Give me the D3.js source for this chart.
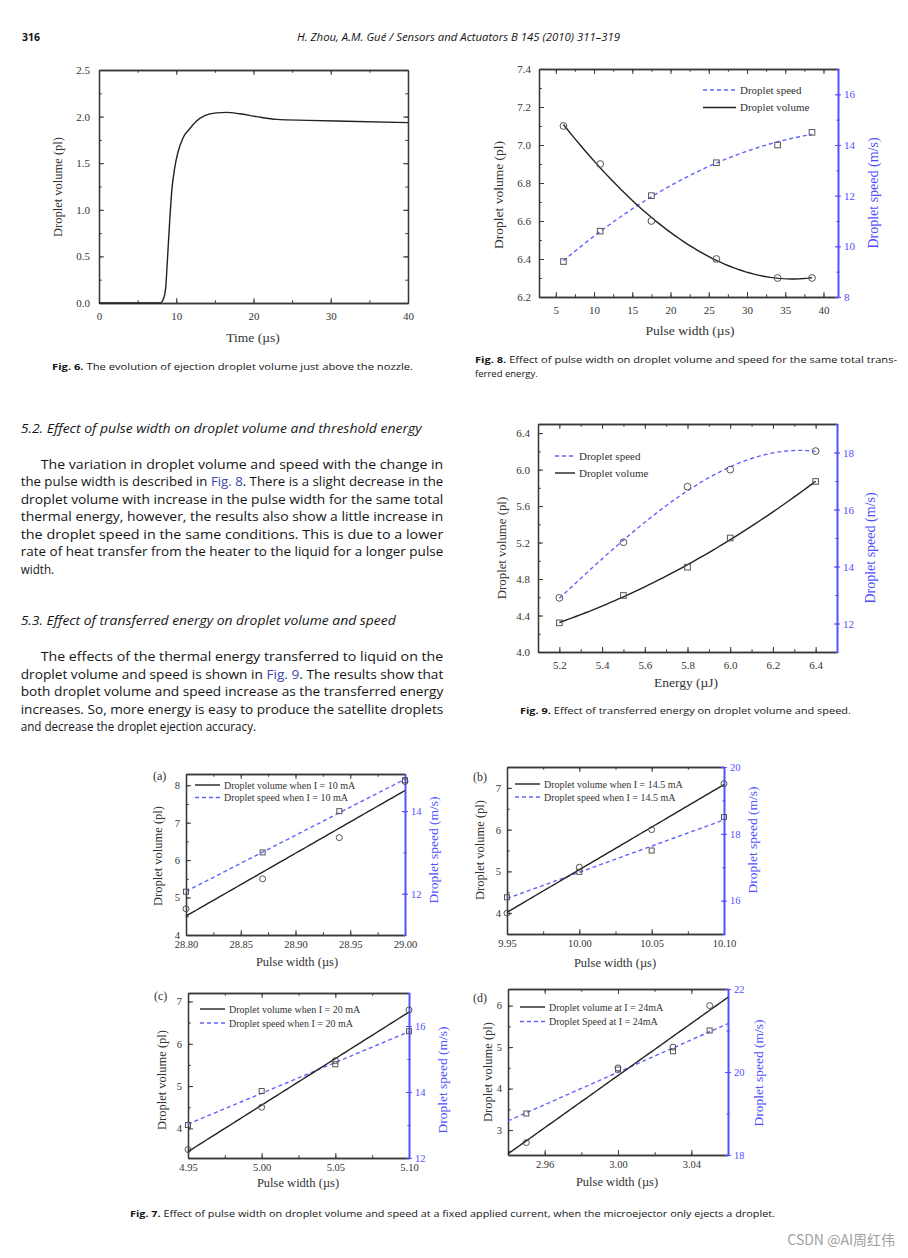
<!DOCTYPE html>
<html>
<head>
<meta charset="utf-8">
<script src="https://cdn.jsdelivr.net/npm/d3@7"></script>
<style>
  body { margin: 0; background: #fff; }
</style>
</head>
<body>
<svg id="page" width="908" height="1258"></svg>
<script>
// ---- data ----
// Fig. 6: droplet volume vs time
var fig6Time   = [0, 7.94, 8.37, 8.63, 8.85, 9.15, 9.45, 9.8, 10.23, 10.87, 11.74, 12.6, 13.68, 15.2, 16.5, 18.2, 20.4, 23, 27, 32, 40];
var fig6Volume = [0, 0, 0.05, 0.16, 0.45, 0.88, 1.23, 1.45, 1.62, 1.77, 1.87, 1.95, 2.01, 2.04, 2.045, 2.03, 2.0, 1.97, 1.96, 1.95, 1.935];

// Fig. 8: pulse width vs volume / speed
var fig8Pulse  = [6, 10.8, 17.5, 26, 34, 38.5];
var fig8Volume = [7.1, 6.9, 6.6, 6.4, 6.3, 6.3];
var fig8Speed  = [9.4, 10.6, 12.0, 13.3, 14.0, 14.5];

// Fig. 9: energy vs volume / speed
var fig9Energy = [5.2, 5.5, 5.8, 6.0, 6.4];
var fig9Volume = [4.32, 4.62, 4.93, 5.25, 5.87];
var fig9Speed  = [12.9, 14.85, 16.8, 17.4, 18.05];

// Fig. 7 (a)-(d): pulse width at fixed current
var fig7aPulse = [28.80, 28.87, 28.94, 29.00];
var fig7aVolume = [4.7, 5.5, 6.6, 8.1];
var fig7aSpeed = [12.05, 13.0, 14.0, 14.75];
var fig7bPulse = [9.95, 10.00, 10.05, 10.10];
var fig7bVolume = [4.0, 5.1, 6.0, 7.1];
var fig7bSpeed = [16.1, 16.86, 17.5, 18.5];
var fig7cPulse = [4.95, 5.00, 5.05, 5.10];
var fig7cVolume = [3.5, 4.5, 5.6, 6.8];
var fig7cSpeed = [13.0, 14.03, 14.84, 15.84];
var fig7dPulse = [2.95, 3.00, 3.03, 3.05];
var fig7dVolume = [2.7, 4.5, 5.0, 6.0];
var fig7dSpeed = [19.0, 20.06, 20.5, 21.0];

var fig7Legends = [
  ["Droplet volume when I = 10 mA", "Droplet speed when I = 10 mA"],
  ["Droplet volume when I = 14.5 mA", "Droplet speed when I = 14.5 mA"],
  ["Droplet volume when I = 20 mA", "Droplet speed when I = 20 mA"],
  ["Droplet volume at I = 24mA", "Droplet Speed at I = 24mA"]
];

// ---- styles ----
var svg = d3.select("#page");
var axisInk = "#3a3a3a", labelInk = "#333", blue = "#4f4fff", dashBlue = "#6363ff", markInk = "#555";
var serif = '"Liberation Serif","DejaVu Serif",serif';
var sans = '"Open Sans","Noto Sans",sans-serif';

function steps(a, b, s) {
  var n = Math.round((b - a) / s);
  return d3.range(n + 1).map(function(i) { return +(a + i * s).toFixed(6); });
}

function styleAxis(sel, color, fs) {
  sel.attr("font-family", null).attr("font-size", null);
  sel.select(".domain").attr("stroke", color).attr("stroke-width", 1.3);
  sel.selectAll(".tick line").attr("stroke", color).attr("stroke-width", 1);
  sel.selectAll("text").attr("fill", color === blue ? blue : labelInk)
    .attr("font-family", serif).attr("font-size", fs);
}

function addAxis(g, axis, pos, major, minor, fmt, size, pad, color, fs) {
  var m = g.append("g").attr("transform", pos)
    .call(axis.tickValues(minor).tickSize(size * 0.55).tickSizeOuter(0).tickFormat(""));
  styleAxis(m, color, fs);
  var a = g.append("g").attr("transform", pos)
    .call(axis.tickValues(major).tickSize(size).tickSizeOuter(0).tickPadding(pad).tickFormat(fmt));
  styleAxis(a, color, fs);
}

function title(g, txt, x, y, rot, fs, color) {
  g.append("text")
    .attr("transform", "translate(" + x + "," + y + ")" + (rot ? " rotate(-90)" : ""))
    .attr("text-anchor", "middle").attr("dy", "0.35em")
    .attr("font-family", serif).attr("font-size", fs)
    .attr("fill", color || labelInk)
    .text(txt);
}

function drawPanel(p) {
  var g = svg.append("g");
  var x = d3.scaleLinear().domain(p.xDomain).range([p.left, p.right]);
  var y = d3.scaleLinear().domain(p.yDomain).range([p.bottom, p.top]);
  var fs = p.tickFont;
  addAxis(g, d3.axisTop(x), "translate(0," + p.top + ")", p.xTicks, p.xMinor, "", -5, 0, axisInk, fs);
  addAxis(g, d3.axisBottom(x), "translate(0," + p.bottom + ")", p.xTicks, p.xMinor, d3.format(p.xFmt), -5, p.xPad, axisInk, fs);
  addAxis(g, d3.axisLeft(y), "translate(" + p.left + ",0)", p.yTicks, p.yMinor, d3.format(p.yFmt), -5, p.yPad, axisInk, fs);
  var y2 = null;
  if (p.y2Domain) {
    y2 = d3.scaleLinear().domain(p.y2Domain).range([p.bottom, p.top]);
    addAxis(g, d3.axisRight(y2), "translate(" + p.right + ",0)", p.y2Ticks, p.y2Minor, "", -3, 0, blue, fs);
    addAxis(g, d3.axisRight(y2), "translate(" + p.right + ",0)", p.y2Ticks, p.y2Minor, d3.format("d"), 3, 3, blue, fs);
    title(g, "Droplet speed (m/s)", p.y2Title[0], p.y2Title[1], true, p.y2TitleFont, blue);
  } else {
    addAxis(g, d3.axisRight(y), "translate(" + p.right + ",0)", p.yTicks, p.yMinor, "", -5, 0, axisInk, fs);
  }
  title(g, p.xLabel, p.xTitle[0], p.xTitle[1], false, p.xTitleFont);
  title(g, "Droplet volume (pl)", p.yTitle[0], p.yTitle[1], true, p.yTitleFont);
  if (p.tag) {
    g.append("text").attr("x", p.tag[0]).attr("y", p.tag[1]).attr("dy", "0.35em")
      .attr("font-family", serif).attr("font-size", 12).attr("fill", labelInk).text(p.tagText);
  }
  return {g: g, x: x, y: y, y2: y2};
}

function strokePath(pp, pts, sy, color, dash, kind) {
  var line = d3.line().x(function(d) { return pp.x(d[0]); }).y(function(d) { return sy(d[1]); });
  if (kind) line.curve(kind);
  pp.g.append("path").datum(pts).attr("d", line)
    .attr("fill", "none").attr("stroke", color).attr("stroke-width", 1.4)
    .attr("stroke-dasharray", dash || null);
}

// least-squares polynomial through the measured points (the smooth fit curve drawn in the paper)
function polyFit(xs, ys, deg) {
  var mx = d3.mean(xs), n = deg + 1;
  var A = d3.range(n).map(function(r) {
    return d3.range(n + 1).map(function(c) {
      if (c === n) return d3.sum(xs, function(v, i) { return ys[i] * Math.pow(v - mx, r); });
      return d3.sum(xs, function(v) { return Math.pow(v - mx, r + c); });
    });
  });
  for (var i = 0; i < n; i++) {
    for (var j = i + 1; j < n; j++) {
      var f = A[j][i] / A[i][i];
      for (var k = i; k <= n; k++) A[j][k] -= f * A[i][k];
    }
  }
  var coef = new Array(n);
  for (var i2 = n - 1; i2 >= 0; i2--) {
    var s = A[i2][n];
    for (var k2 = i2 + 1; k2 < n; k2++) s -= A[i2][k2] * coef[k2];
    coef[i2] = s / A[i2][i2];
  }
  return function(v) { return d3.sum(coef, function(c, p) { return c * Math.pow(v - mx, p); }); };
}

function fitCurve(pp, xs, ys, sy, deg, color, dash, range) {
  var f = polyFit(xs, ys, deg);
  var span = range || d3.extent(xs);
  var pts = d3.range(61).map(function(i) {
    var v = span[0] + (span[1] - span[0]) * i / 60;
    return [v, f(v)];
  });
  strokePath(pp, pts, sy, color, dash, null);
}

function markers(pp, xs, ys, sy, shape, r) {
  var pts = d3.zip(xs, ys);
  if (shape === "circle") {
    pp.g.selectAll(null).data(pts).join("circle")
      .attr("cx", function(d) { return pp.x(d[0]); }).attr("cy", function(d) { return sy(d[1]); })
      .attr("r", r).attr("fill", "none").attr("stroke", markInk).attr("stroke-width", 1);
  } else {
    pp.g.selectAll(null).data(pts).join("rect")
      .attr("x", function(d) { return pp.x(d[0]) - r; }).attr("y", function(d) { return sy(d[1]) - r; })
      .attr("width", 2 * r).attr("height", 2 * r)
      .attr("fill", "none").attr("stroke", markInk).attr("stroke-width", 1);
  }
}

function legendRow(g, x0, x1, y, txt, color, dash, fs) {
  g.append("line").attr("x1", x0).attr("x2", x1).attr("y1", y).attr("y2", y)
    .attr("stroke", color).attr("stroke-width", 1.4).attr("stroke-dasharray", dash || null);
  g.append("text").attr("x", x1 + 4).attr("y", y).attr("dy", "0.35em")
    .attr("font-family", serif).attr("font-size", fs).attr("fill", labelInk).text(txt);
}

// ---- Fig. 6 ----
var p6 = drawPanel({
  left: 99, right: 408, top: 70, bottom: 303,
  xDomain: [0, 40], yDomain: [0, 2.5],
  xTicks: steps(0, 40, 10), xMinor: steps(0, 40, 5), xFmt: "d", xPad: 9,
  yTicks: steps(0, 2.5, 0.5), yMinor: steps(0, 2.5, 0.25), yFmt: ".1f", yPad: 9,
  tickFont: 11, xLabel: "Time (\u00b5s)", xTitle: [253, 337], xTitleFont: 13.5,
  yTitle: [58, 187], yTitleFont: 12.5
});
strokePath(p6, d3.zip(fig6Time, fig6Volume), p6.y, "#222", null, d3.curveMonotoneX);

// ---- Fig. 8 ----
var p8 = drawPanel({
  left: 539, right: 838, top: 69, bottom: 297,
  xDomain: [2.8, 41.9], yDomain: [6.2, 7.4], y2Domain: [8, 17],
  xTicks: steps(5, 40, 5), xMinor: steps(5, 40, 2.5), xFmt: "d", xPad: 9,
  yTicks: steps(6.2, 7.4, 0.2), yMinor: steps(6.2, 7.4, 0.1), yFmt: ".1f", yPad: 8,
  y2Ticks: steps(8, 16, 2), y2Minor: steps(8, 17, 1),
  tickFont: 11, xLabel: "Pulse width (\u00b5s)", xTitle: [690, 330], xTitleFont: 13.5,
  yTitle: [498, 195], yTitleFont: 13.5, y2Title: [873, 193], y2TitleFont: 14
});
fitCurve(p8, fig8Pulse, fig8Speed, p8.y2, 2, dashBlue, "4,3");
fitCurve(p8, fig8Pulse, fig8Volume, p8.y, 3, "#222");
markers(p8, fig8Pulse, fig8Volume, p8.y, "circle", 3.4);
markers(p8, fig8Pulse, fig8Speed, p8.y2, "square", 2.8);
legendRow(p8.g, 703, 736, 90, "Droplet speed", dashBlue, "4,3", 11);
legendRow(p8.g, 703, 736, 107.5, "Droplet volume", "#222", null, 11);

// ---- Fig. 9 ----
var p9 = drawPanel({
  left: 538, right: 837, top: 424, bottom: 652,
  xDomain: [5.1, 6.5], yDomain: [4.0, 6.5], y2Domain: [11, 19],
  xTicks: steps(5.2, 6.4, 0.2), xMinor: steps(5.2, 6.4, 0.1), xFmt: ".1f", xPad: 9,
  yTicks: steps(4.0, 6.4, 0.4), yMinor: steps(4.0, 6.4, 0.2), yFmt: ".1f", yPad: 8,
  y2Ticks: steps(12, 18, 2), y2Minor: steps(11, 19, 1),
  tickFont: 11, xLabel: "Energy (\u00b5J)", xTitle: [686, 682], xTitleFont: 13.5,
  yTitle: [502, 548], yTitleFont: 12.8, y2Title: [870, 548], y2TitleFont: 14
});
fitCurve(p9, fig9Energy, fig9Speed, p9.y2, 3, dashBlue, "4,3");
fitCurve(p9, fig9Energy, fig9Volume, p9.y, 2, "#222");
markers(p9, fig9Energy, fig9Volume, p9.y, "square", 2.8);
markers(p9, fig9Energy, fig9Speed, p9.y2, "circle", 3.4);
legendRow(p9.g, 555, 575, 456, "Droplet speed", dashBlue, "4,3", 11);
legendRow(p9.g, 555, 575, 473, "Droplet volume", "#222", null, 11);

// ---- Fig. 7 ----
var fig7Panels = [
  {left: 186, right: 405, top: 774, bottom: 935, xDomain: [28.80, 29.00], yDomain: [4, 8.3], y2Domain: [11, 14.9],
   xTicks: steps(28.80, 29.00, 0.05), xMinor: steps(28.80, 29.00, 0.025), yTicks: steps(4, 8, 1), yMinor: steps(4, 8, 0.5),
   y2Ticks: steps(12, 14, 2), y2Minor: steps(11, 14, 1),
   xTitle: [297, 962], yTitle: [158, 856], y2Title: [433, 850], tag: [153, 776], tagText: "(a)", leg: [195, 220, 785, 797.5]},
  {left: 507, right: 724, top: 767, bottom: 934, xDomain: [9.95, 10.10], yDomain: [3.5, 7.5], y2Domain: [15, 20],
   xTicks: steps(9.95, 10.10, 0.05), xMinor: steps(9.95, 10.10, 0.025), yTicks: steps(4, 7, 1), yMinor: steps(3.5, 7.5, 0.5),
   y2Ticks: steps(16, 20, 2), y2Minor: steps(15, 20, 1),
   xTitle: [615, 963], yTitle: [480, 850], y2Title: [752, 840], tag: [473, 777], tagText: "(b)", leg: [515, 540, 784, 797]},
  {left: 188, right: 409, top: 993, bottom: 1158, xDomain: [4.95, 5.10], yDomain: [3.3, 7.2], y2Domain: [12, 17],
   xTicks: steps(4.95, 5.10, 0.05), xMinor: steps(4.95, 5.10, 0.025), yTicks: steps(4, 7, 1), yMinor: steps(3.5, 7, 0.5),
   y2Ticks: steps(12, 16, 2), y2Minor: steps(12, 17, 1),
   xTitle: [298, 1183], yTitle: [162, 1080], y2Title: [442, 1080], tag: [154, 996], tagText: "(c)", leg: [200, 225, 1009, 1023]},
  {left: 508, right: 728, top: 989, bottom: 1155, xDomain: [2.94, 3.06], yDomain: [2.4, 6.4], y2Domain: [18, 22],
   xTicks: steps(2.96, 3.04, 0.04), xMinor: steps(2.94, 3.06, 0.02), yTicks: steps(3, 6, 1), yMinor: steps(2.5, 6, 0.5),
   y2Ticks: steps(18, 22, 2), y2Minor: steps(18, 22, 1),
   xTitle: [617, 1182], yTitle: [488, 1072], y2Title: [758, 1073], tag: [473, 998], tagText: "(d)", leg: [520, 545, 1007, 1021.5]}
];
var fig7Series = [
  [fig7aPulse, fig7aVolume, fig7aSpeed],
  [fig7bPulse, fig7bVolume, fig7bSpeed],
  [fig7cPulse, fig7cVolume, fig7cSpeed],
  [fig7dPulse, fig7dVolume, fig7dSpeed]
];
fig7Panels.forEach(function(cfg, i) {
  cfg.xFmt = ".2f"; cfg.yFmt = "d"; cfg.xPad = 6; cfg.yPad = 6; cfg.tickFont = 10.5;
  cfg.xLabel = "Pulse width (\u00b5s)"; cfg.xTitleFont = 12.5; cfg.yTitleFont = 12.5; cfg.y2TitleFont = 13.5;
  var pp = drawPanel(cfg);
  var s = fig7Series[i];
  // straight-line fits across the whole axis
  fitCurve(pp, s[0], s[2], pp.y2, 1, dashBlue, "4,3", cfg.xDomain);
  fitCurve(pp, s[0], s[1], pp.y, 1, "#222", null, cfg.xDomain);
  markers(pp, s[0], s[1], pp.y, "circle", 3);
  markers(pp, s[0], s[2], pp.y2, "square", 2.5);
  legendRow(pp.g, cfg.leg[0], cfg.leg[1], cfg.leg[2], fig7Legends[i][0], "#222", null, 10);
  legendRow(pp.g, cfg.leg[0], cfg.leg[1], cfg.leg[3], fig7Legends[i][1], dashBlue, "4,3", 10);
});

// ---- page text ----
var textInk = "#151515", linkInk = "#3a4aa8";

function textRow(parts, x, y, opt) {
  var t = svg.append("text").attr("x", x).attr("y", y)
    .attr("font-family", opt.family || sans).attr("font-size", opt.size)
    .attr("font-style", opt.italic ? "italic" : null)
    .attr("fill", textInk);
  if (opt.width) t.attr("textLength", opt.width).attr("lengthAdjust", "spacingAndGlyphs");
  parts.forEach(function(p) {
    var s = t.append("tspan").text(p[0]);
    if (p[1] === "link") s.attr("fill", linkInk);
    if (p[1] === "bold") s.attr("font-weight", "bold");
  });
  return t;
}

// running head
textRow([["316", "bold"]], 22, 41, {size: 10.5});
textRow([["H. Zhou, A.M. Gu\u00e9 / Sensors and Actuators B 145 (2010) 311\u2013319"]], 297, 41, {size: 10.5, italic: true, width: 323});

// section text
var heading52 = "5.2.  Effect of pulse width on droplet volume and threshold energy";
var heading53 = "5.3.  Effect of transferred energy on droplet volume and speed";
var para52 = [
  [["The variation in droplet volume and speed with the change in"]],
  [["the pulse width is described in "], ["Fig. 8", "link"], [". There is a slight decrease in the"]],
  [["droplet volume with increase in the pulse width for the same total"]],
  [["thermal energy, however, the results also show a little increase in"]],
  [["the droplet speed in the same conditions. This is due to a lower"]],
  [["rate of heat transfer from the heater to the liquid for a longer pulse"]],
  [["width."]]
];
var para53 = [
  [["The effects of the thermal energy transferred to liquid on the"]],
  [["droplet volume and speed is shown in "], ["Fig. 9", "link"], [". The results show that"]],
  [["both droplet volume and speed increase as the transferred energy"]],
  [["increases. So, more energy is easy to produce the satellite droplets"]],
  [["and decrease the droplet ejection accuracy."]]
];

function paragraph(lines, y0) {
  lines.forEach(function(parts, i) {
    var x = i === 0 ? 40.7 : 20.7;
    var last = i === lines.length - 1;
    var t = textRow(parts, x, y0 + i * 17.5, {size: 12.5, width: last ? null : 443.3 - x});
    if (last) {
      // natural width, slightly condensed to match the page font
      t.attr("textLength", t.node().getComputedTextLength() * 0.93).attr("lengthAdjust", "spacingAndGlyphs");
    }
  });
}

textRow([[heading52]], 20.7, 432.5, {size: 12.5, italic: true, width: 401});
paragraph(para52, 468.5);
textRow([[heading53]], 20.7, 625, {size: 12.5, italic: true, width: 375});
paragraph(para53, 661);

// captions
textRow([["Fig. 6.", "bold"], ["  The evolution of ejection droplet volume just above the nozzle."]], 52, 369.5, {size: 9.5, width: 361});
textRow([["Fig. 8.", "bold"], ["  Effect of pulse width on droplet volume and speed for the same total trans-"]], 475, 362.5, {size: 9.5, width: 422});
textRow([["ferred energy."]], 475, 376.5, {size: 9.5});
textRow([["Fig. 9.", "bold"], ["  Effect of transferred energy on droplet volume and speed."]], 520, 713.5, {size: 9.5, width: 331});
textRow([["Fig. 7.", "bold"], ["  Effect of pulse width on droplet volume and speed at a fixed applied current, when the microejector only ejects a droplet."]], 130, 1216.5, {size: 9.5, width: 645});

// watermark
svg.append("text").attr("x", 895).attr("y", 1245).attr("text-anchor", "end")
  .attr("font-family", '"Noto Sans CJK SC","Noto Sans",sans-serif').attr("font-size", 14)
  .attr("fill", "#a0a0a0").text("CSDN @AI\u5468\u7ea2\u4f1f");
</script>
</body>
</html>
